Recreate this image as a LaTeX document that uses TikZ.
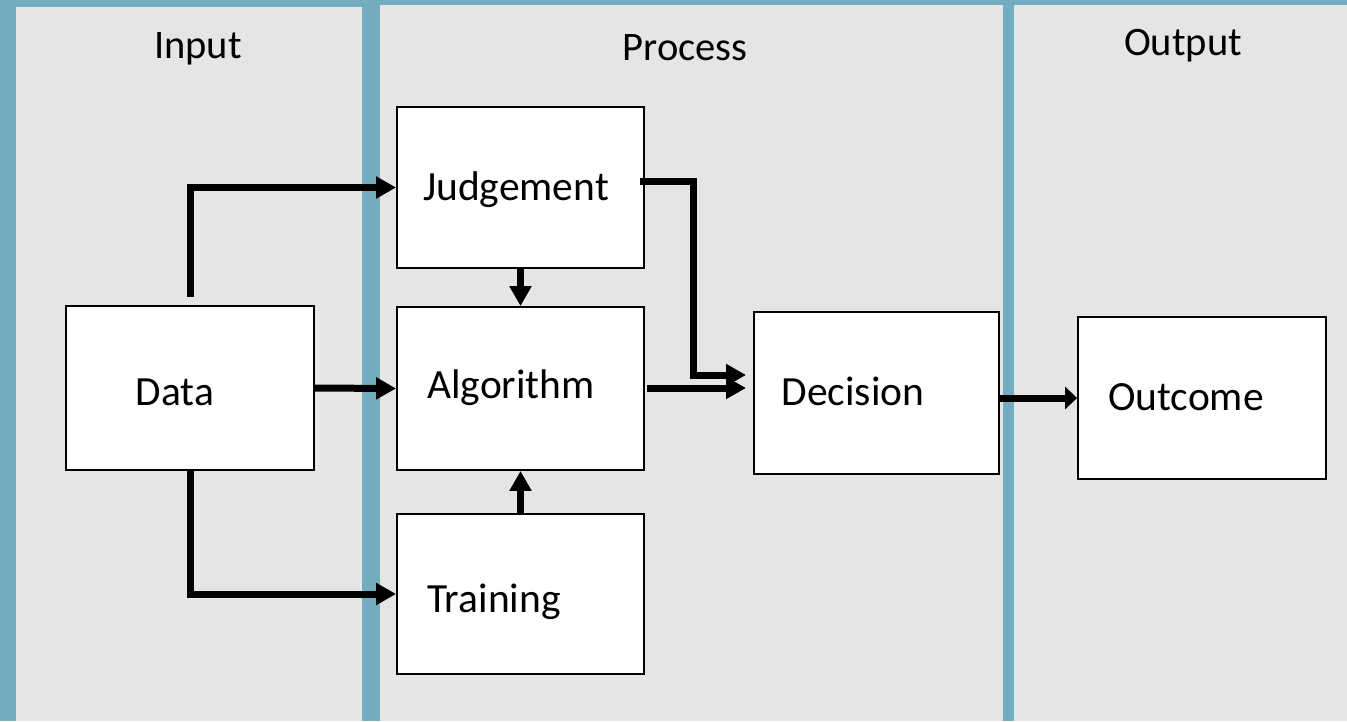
\documentclass[tikz,border=0pt]{standalone}
\usepackage{fontspec}
\setmainfont{Carlito}
\usetikzlibrary{arrows.meta}
\definecolor{sea}{HTML}{74ACBF}
\definecolor{panelgray}{HTML}{E5E5E5}
\begin{document}
\begin{tikzpicture}[x=1pt,y=-1pt,
  panel/.style={fill=panelgray, draw=none},
  box/.style={draw=black, line width=1.8pt, fill=white, inner sep=0pt},
  lbl/.style={anchor=base, inner sep=0pt, font=\fontsize{41.5}{48}\selectfont},
  ttl/.style={anchor=base, inner sep=0pt, font=\fontsize{40.5}{48}\selectfont},
  conn/.style={line width=7pt, line join=miter, -{Triangle[length=20pt,width=21pt]}},
  shortconn/.style={line width=7pt, -{Triangle[length=12pt,width=22pt]}}]

% page and the three columns
\useasboundingbox (0,0) rectangle (1347,721);
\fill[sea] (0,0) rectangle (1347,721);
\fill[panel] (16,7) rectangle (362,721);
\fill[panel] (380,5) rectangle (1003,721);
\fill[panel] (1014,5) rectangle (1347,721);

% column titles
\node[ttl] (tin) at (198,58) {Input};
\node[ttl] (tproc) at (685,60) {Process};
\node[ttl] (tout) at (1183,55) {Output};

% boxes
\node[box, minimum width=248pt, minimum height=164pt] (data) at (190,388) {};
\node[box, minimum width=247pt, minimum height=161pt] (judge) at (520.5,187.5) {};
\node[box, minimum width=247pt, minimum height=163pt] (algo) at (520.5,388.5) {};
\node[box, minimum width=247pt, minimum height=160pt] (train) at (520.5,594) {};
\node[box, minimum width=245pt, minimum height=162pt] (decision) at (876.5,393) {};
\node[box, minimum width=248pt, minimum height=162pt] (outcome) at (1202,398) {};

% box labels
\node[lbl] (ldata) at (175,405) {Data};
\node[lbl] (ljudge) at (516,200) {Judgement};
\node[lbl] (lalgo) at (511,398) {Algorithm};
\node[lbl] (ltrain) at (494,612) {Training};
\node[lbl] (ldec) at (853,405) {Decision};
\node[lbl] (lout) at (1186,410) {Outcome};

% connector end points
\coordinate (dataup) at (190,297);
\coordinate (jout) at (640,181);
\coordinate (bend) at (693,375);
\coordinate (decA) at (746,375);
\coordinate (aout) at (647,388);
\coordinate (decB) at (746,388);

% connectors
\draw[conn] (dataup) |- (judge.west);
\draw[conn] (data.east) -- (algo.west);
\draw[conn] (data.south) |- (train.west);
\draw[conn] (judge.south) -- (algo.north);
\draw[conn] (train.north) -- (algo.south);
\draw[conn] (jout) -| (bend) -- (decA);
\draw[conn] (aout) -- (decB);
\draw[shortconn] (decision.east |- outcome.west) -- (outcome.west);
\end{tikzpicture}
\end{document}
